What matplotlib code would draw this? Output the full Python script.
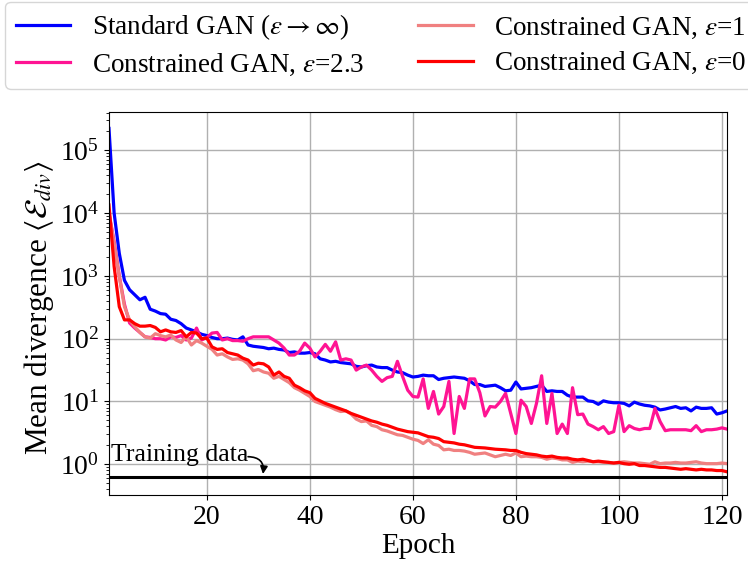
import numpy as np
import matplotlib
matplotlib.use("Agg")
import matplotlib.pyplot as plt

plt.rcParams['font.family'] = ['Liberation Serif', 'DejaVu Serif']
plt.rcParams['mathtext.fontset'] = 'stix'
plt.rcParams['font.size'] = 20

# values, stored as log10 of the mean divergence
epochs = np.arange(1, 122)

std_gan_log = [
    5.35, 4.00, 3.36, 2.93, 2.78, 2.70, 2.62, 2.66, 2.47, 2.44,
    2.40, 2.39, 2.31, 2.29, 2.24, 2.17, 2.14, 2.11, 2.07, 2.05,
    2.02, 2.00, 2.00, 2.01, 1.99, 1.98, 2.03, 1.90, 1.88, 1.87,
    1.86, 1.84, 1.85, 1.83, 1.82, 1.78, 1.79, 1.77, 1.77, 1.78,
    1.76, 1.68, 1.66, 1.63, 1.64, 1.62, 1.61, 1.60, 1.56, 1.55,
    1.57, 1.58, 1.55, 1.54, 1.54, 1.50, 1.47, 1.46, 1.42, 1.39,
    1.40, 1.42, 1.41, 1.41, 1.35, 1.37, 1.38, 1.39, 1.38, 1.37,
    1.33, 1.27, 1.27, 1.24, 1.25, 1.26, 1.22, 1.17, 1.18, 1.31,
    1.20, 1.21, 1.22, 1.24, 1.26, 1.16, 1.17, 1.16, 1.16, 1.10,
    1.07, 1.07, 1.07, 1.01, 1.00, 0.955, 1.01, 0.99, 0.98, 0.98,
    0.97, 0.93, 0.99, 0.96, 0.94, 0.93, 0.91, 0.865, 0.88, 0.90,
    0.92, 0.89, 0.90, 0.85, 0.91, 0.89, 0.89, 0.90, 0.80, 0.82,
    0.85,
]

eps23_log = [
    4.00, 3.55, 3.00, 2.55, 2.25, 2.17, 2.10, 2.03, 2.02, 2.00,
    2.00, 1.98, 2.03, 2.02, 2.05, 1.98, 2.01, 2.17, 1.98, 2.02,
    2.09, 2.10, 1.98, 2.00, 1.97, 1.97, 1.96, 2.00, 2.03, 2.03,
    2.03, 2.03, 1.98, 1.93, 1.85, 1.74, 1.74, 1.80, 1.93, 1.85,
    1.71, 1.80, 1.91, 1.80, 1.95, 1.66, 1.68, 1.66, 1.50, 1.55,
    1.58, 1.50, 1.40, 1.32, 1.38, 1.40, 1.64, 1.40, 1.18, 1.08,
    1.07, 1.36, 0.89, 1.16, 0.80, 0.92, 1.32, 0.49, 1.08, 0.89,
    1.36, 1.36, 1.14, 0.77, 0.92, 0.91, 1.00, 1.13, 0.81, 0.49,
    1.02, 0.92, 0.65, 0.97, 1.41, 0.65, 1.13, 0.49, 0.64, 0.49,
    1.22, 0.79, 0.80, 0.64, 0.60, 0.55, 0.60, 0.49, 0.52, 0.94,
    0.52, 0.615, 0.57, 0.55, 0.57, 0.57, 0.89, 0.68, 0.535, 0.55,
    0.55, 0.55, 0.55, 0.535, 0.615, 0.52, 0.55, 0.55, 0.56, 0.58,
    0.56,
]

eps1_log = [
    4.00, 3.52, 2.99, 2.51, 2.30, 2.19, 2.10, 2.03, 2.01, 2.08,
    2.05, 2.03, 2.06, 1.98, 1.94, 2.03, 1.90, 1.97, 1.93, 1.88,
    1.83, 1.74, 1.76, 1.71, 1.67, 1.68, 1.66, 1.60, 1.49, 1.51,
    1.47, 1.45, 1.37, 1.40, 1.35, 1.30, 1.22, 1.18, 1.13, 1.08,
    1.00, 0.97, 0.94, 0.91, 0.87, 0.84, 0.85, 0.80, 0.72, 0.68,
    0.69, 0.62, 0.60, 0.55, 0.53, 0.50, 0.47, 0.46, 0.43, 0.40,
    0.38, 0.33, 0.39, 0.32, 0.30, 0.23, 0.24, 0.22, 0.22, 0.21,
    0.19, 0.16, 0.17, 0.18, 0.15, 0.12, 0.14, 0.16, 0.14, 0.18,
    0.12, 0.13, 0.12, 0.12, 0.11, 0.08, 0.10, 0.09, 0.07, 0.07,
    0.03, 0.05, 0.04, 0.05, 0.04, 0.04, 0.03, 0.03, 0.02, 0.03,
    0.04, 0.03, 0.02, 0.02, 0.01, 0.00, 0.04, 0.01, 0.02, 0.02,
    0.03, 0.02, 0.02, 0.03, 0.04, 0.02, 0.01, 0.01, 0.01, 0.02,
    0.01,
]

eps0_log = [
    4.13, 3.15, 2.51, 2.30, 2.30, 2.24, 2.20, 2.20, 2.21, 2.18,
    2.11, 2.14, 2.11, 2.10, 2.13, 2.03, 2.10, 2.09, 2.00, 2.01,
    1.87, 1.83, 1.84, 1.78, 1.76, 1.74, 1.69, 1.66, 1.58, 1.61,
    1.60, 1.55, 1.42, 1.47, 1.40, 1.37, 1.26, 1.22, 1.17, 1.14,
    1.05, 1.01, 0.97, 0.94, 0.91, 0.88, 0.85, 0.81, 0.78, 0.75,
    0.72, 0.69, 0.67, 0.64, 0.62, 0.59, 0.56, 0.54, 0.52, 0.51,
    0.50, 0.47, 0.44, 0.43, 0.41, 0.36, 0.35, 0.34, 0.32, 0.31,
    0.29, 0.27, 0.265, 0.26, 0.25, 0.24, 0.235, 0.23, 0.22, 0.22,
    0.19, 0.17, 0.16, 0.15, 0.13, 0.12, 0.13, 0.11, 0.10, 0.10,
    0.08, 0.07, 0.08, 0.06, 0.04, 0.05, 0.04, 0.03, 0.02, 0.03,
    0.01, 0.00, 0.01, -0.02, -0.02, -0.03, -0.04, -0.05, -0.05, -0.06,
    -0.07, -0.08, -0.07, -0.08, -0.09, -0.08, -0.09, -0.09, -0.10, -0.10,
    -0.12,
]

training_level = 0.63

series = [
    (std_gan_log, 'blue', r'Standard GAN ($\varepsilon\rightarrow\infty$)'),
    (eps23_log, '#ff1493', r'Constrained GAN, $\varepsilon$=2.3'),
    (eps1_log, '#f08080', r'Constrained GAN, $\varepsilon$=1'),
    (eps0_log, 'red', r'Constrained GAN, $\varepsilon$=0'),
]

fig = plt.figure(figsize=(7.48, 5.69), dpi=100)
ax = fig.add_axes([0.1457, 0.130, 0.8263, 0.673])

for vals, col, lab in series:
    ax.plot(epochs, 10 ** np.array(vals), color=col, lw=2.3, label=lab)

ax.axhline(training_level, color='black', lw=2.2)
ax.text(1.3, 1.38, 'Training data', fontsize=18.5, va='center', ha='left')
# small curled arrow from the end of the text down to the line
ax.annotate('', xy=(30.9, 0.70), xytext=(28.0, 1.32),
            arrowprops=dict(arrowstyle='-|>', color='black', lw=1.2,
                            connectionstyle='arc3,rad=-0.55',
                            shrinkA=0, shrinkB=0, mutation_scale=11))

ax.set_yscale('log')
ax.set_xlim(1, 121)
ax.set_ylim(10 ** -0.49, 10 ** 5.61)
ax.set_xticks([20, 40, 60, 80, 100, 120])
ax.grid(True, which='major', color='#b0b0b0', lw=1)
ax.set_xlabel('Epoch', fontsize=21, labelpad=2)
ax.set_ylabel(r'Mean divergence $\langle\mathcal{E}_{div}\rangle$', fontsize=22.5,
              labelpad=2)
ax.yaxis.set_label_coords(-0.085, 0.49)
ax.tick_params(labelsize=20)

fig.legend(loc='upper left', bbox_to_anchor=(0.007, 0.997), ncol=2,
           fontsize=19.5, labelspacing=0.35, borderaxespad=0.0)

fig.savefig('out.png', dpi=100)
